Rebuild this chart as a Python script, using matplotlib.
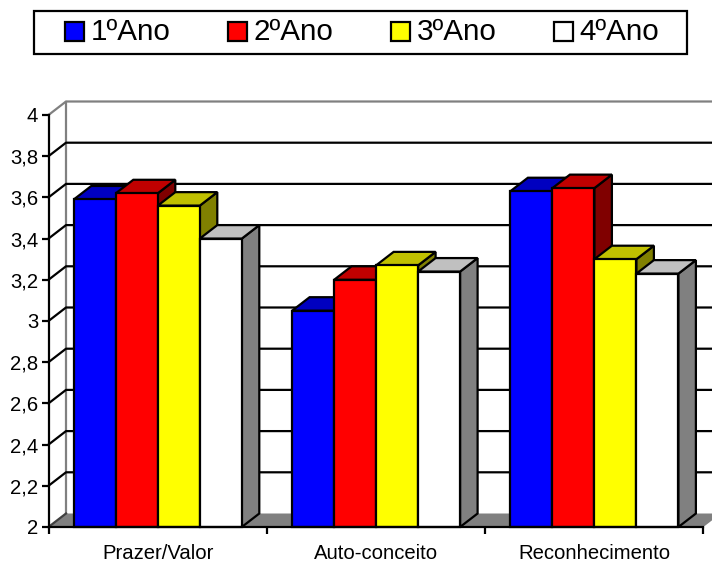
import numpy as np
import matplotlib.pyplot as plt
from matplotlib.patches import Rectangle

plt.rcParams['font.family'] = ['Liberation Sans', 'DejaVu Sans']

categorias = ['Prazer/Valor', 'Auto-conceito', 'Reconhecimento']
anos = ['1ºAno', '2ºAno', '3ºAno', '4ºAno']
ano1 = [3.59, 3.05, 3.63]
ano2 = [3.62, 3.20, 3.645]
ano3 = [3.56, 3.27, 3.30]
ano4 = [3.40, 3.24, 3.23]
series = [ano1, ano2, ano3, ano4]
yticks = [2, 2.2, 2.4, 2.6, 2.8, 3, 3.2, 3.4, 3.6, 3.8, 4]
ylabels = ['2', '2,2', '2,4', '2,6', '2,8', '3', '3,2', '3,4', '3,6', '3,8', '4']

frente = ['#0000FF', '#FF0000', '#FFFF00', '#FFFFFF']
topo = ['#0000C0', '#C00000', '#C0C000', '#C0C0C0']
lado = ['#000080', '#800000', '#808000', '#808080']

W, H = 712, 563
fig = plt.figure(figsize=(W / 100, H / 100), dpi=100)
# area da frente do grafico, em pixels
x0, x1, y0, y1 = 48.5, 703.4, 527, 115
ax = fig.add_axes([x0 / W, 1 - y0 / H, (x1 - x0) / W, (y0 - y1) / H])
ax.set_xlim(0, 3)
ax.set_ylim(2, 4)
ax.patch.set_alpha(0)

lw = 1.6
dx = 17.5 / ((x1 - x0) / 3)  # profundidade 3D
dy = 13.5 / ((y0 - y1) / 2)
larg = 42 / ((x1 - x0) / 3)
margem = 25.3 / ((x1 - x0) / 3)

# parede do fundo e chao
ax.fill([0, dx, 3 + dx, 3], [2, 2 + dy, 2 + dy, 2], color='#808080', lw=0, clip_on=False, zorder=1)
ax.plot([dx, dx], [2 + dy, 4 + dy], color='#808080', lw=lw, clip_on=False, zorder=1.2)
ax.plot([0, dx, 3 + dx], [4, 4 + dy, 4 + dy], color='#808080', lw=lw, clip_on=False, zorder=1.2)
ax.plot([0, dx], [2, 2 + dy], color='#404040', lw=lw, clip_on=False, zorder=1.2)
for t in yticks[1:-1]:
    ax.plot([0, dx, 3 + dx], [t, t + dy, t + dy], color='black', lw=lw, clip_on=False, zorder=1.5)

# barras, da esquerda para a direita
z = 3
for i in range(3):
    for j in range(4):
        v = series[j][i]
        xa = i + margem + j * larg
        xb = xa + larg
        ax.fill([xb, xb + dx, xb + dx, xb], [2, 2 + dy, v + dy, v], facecolor=lado[j], edgecolor='black',
                lw=lw, joinstyle='miter', clip_on=False, zorder=z)
        ax.fill([xa, xa + dx, xb + dx, xb], [v, v + dy, v + dy, v], facecolor=topo[j], edgecolor='black',
                lw=lw, joinstyle='miter', clip_on=False, zorder=z)
        ax.bar(xa, v - 2, width=larg, bottom=2, align='edge', color=frente[j], edgecolor='black',
               lw=lw, clip_on=False, zorder=z + 0.1)
        z += 1

for s in ['top', 'right']:
    ax.spines[s].set_visible(False)
for s in ['left', 'bottom']:
    ax.spines[s].set_linewidth(lw)
    ax.spines[s].set_zorder(100)
ax.set_yticks(yticks)
ax.set_yticklabels(ylabels)
ax.set_xticks([0, 1, 2, 3])
ax.set_xticklabels([])
ax.set_xticks([0.5, 1.5, 2.5], minor=True)
ax.set_xticklabels(categorias, minor=True)
ax.tick_params(axis='y', length=5, width=lw, labelsize=14.6, pad=2.5)
ax.tick_params(axis='x', which='major', length=5, width=lw)
ax.tick_params(axis='x', which='minor', length=0, labelsize=14.6, pad=12)

# legenda
def px(x, y):
    return x / W, 1 - y / H

xl, yl = px(34, 54)
fig.add_artist(Rectangle((xl, yl), 653 / W, 43 / H, transform=fig.transFigure,
                         facecolor='white', edgecolor='black', lw=lw))
for j, nome in enumerate(anos):
    xq = 64.5 + j * 163
    xa, ya = px(xq, 41)
    fig.add_artist(Rectangle((xa, ya), 19.5 / W, 19.5 / H, transform=fig.transFigure,
                             facecolor=frente[j], edgecolor='black', lw=lw))
    xt, yt = px(xq + 26, 32)
    fig.text(xt, yt, nome, fontsize=21.3, ha='left', va='center')

fig.savefig('out.png', dpi=100)
